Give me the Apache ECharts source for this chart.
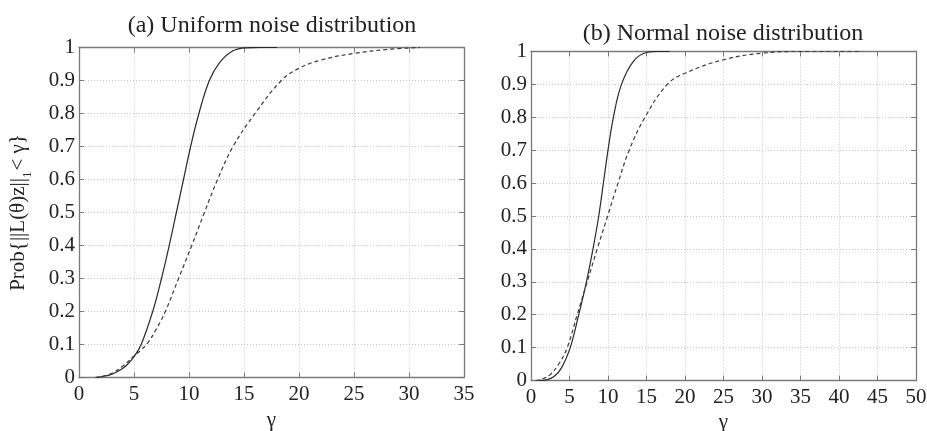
<!DOCTYPE html>
<html>
<head>
<meta charset="utf-8">
<script src="https://cdn.jsdelivr.net/npm/echarts@6/dist/echarts.min.js"></script>
<style>html,body{margin:0;padding:0;background:#fff}#c{width:927px;height:431px}</style>
</head>
<body>
<div id="c"></div>
<script>
// Panel titles
var titleA = "(a) Uniform noise distribution";
var titleB = "(b) Normal noise distribution";
var xName = "γ";
// Axis ranges / ticks
var xMaxA = 35, xMaxB = 50, xStep = 5;
var yMin = 0, yMax = 1, yStep = 0.1;

// (a) Uniform noise: solid curve
var aSolidX = [1.5, 2, 3, 4, 4.5, 5, 5.65, 6.7, 7.5, 8.2, 8.85, 9.5, 10.15, 10.9, 11.85, 12.8, 14.0, 15.2, 16.5, 18];
var aSolidY = [0, 0.002, 0.01, 0.028, 0.043, 0.063, 0.1, 0.2, 0.3, 0.4, 0.5, 0.6, 0.7, 0.8, 0.9, 0.955, 0.99, 0.999, 1, 1];
// (a) Uniform noise: dashed curve
var aDashX = [1.5, 2, 3, 4, 5, 5.6, 6.25, 7.0, 7.85, 9.05, 10.25, 11.4, 12.6, 14.0, 16.0, 18.4, 20, 22, 25, 28, 31];
var aDashY = [0, 0.003, 0.013, 0.035, 0.065, 0.082, 0.105, 0.145, 0.2, 0.3, 0.4, 0.5, 0.6, 0.7, 0.8, 0.9, 0.937, 0.962, 0.982, 0.994, 1];
// (b) Normal noise: solid curve
var bSolidX = [1, 2, 3, 4, 5.1, 6.2, 7.2, 8.05, 8.8, 9.4, 10.0, 10.7, 11.75, 13.3, 15.0, 16.5, 18];
var bSolidY = [0, 0.002, 0.012, 0.04, 0.1, 0.2, 0.3, 0.4, 0.5, 0.6, 0.7, 0.8, 0.9, 0.97, 0.997, 1, 1];
// (b) Normal noise: dashed curve
var bDashX = [0.6, 1.5, 2.5, 3.6, 4.7, 6.0, 7.3, 8.6, 9.95, 11.3, 12.75, 14.8, 17.7, 20, 25, 30, 35, 43];
var bDashY = [0, 0.005, 0.018, 0.05, 0.1, 0.2, 0.3, 0.4, 0.5, 0.6, 0.7, 0.8, 0.9, 0.934, 0.975, 0.995, 1, 1];

function pairs(xs, ys) { return xs.map(function (x, i) { return [x, ys[i]]; }); }

var FONT = "Liberation Serif";
var AX = "#7a7a7a";
var TXT = "#222";

function xAxisMain(gi, max, gap) {
  return {
    type: 'value', gridIndex: gi, min: 0, max: max, interval: xStep,
    axisLine: { show: true, onZero: false, lineStyle: { color: AX, width: 1.3 } },
    axisTick: { show: true, inside: true, length: 5, lineStyle: { color: AX } },
    axisLabel: { color: TXT, fontFamily: FONT, fontSize: 21, margin: 6 },
    splitLine: { show: true, lineStyle: { color: '#c4c4c4', type: [1, 2], width: 1 } },
    name: xName, nameLocation: 'middle', nameGap: gap,
    nameTextStyle: { color: TXT, fontFamily: FONT, fontSize: 21 }
  };
}
function xAxisTop(gi, max) {
  return {
    type: 'value', gridIndex: gi, position: 'top', min: 0, max: max, interval: xStep,
    axisLine: { show: true, onZero: false, lineStyle: { color: AX, width: 1.3 } },
    axisTick: { show: true, inside: true, length: 5, lineStyle: { color: AX } },
    axisLabel: { show: false }, splitLine: { show: false }
  };
}
function yAxisMain(gi, withName) {
  var o = {
    type: 'value', gridIndex: gi, min: yMin, max: yMax, interval: yStep,
    axisLine: { show: true, onZero: false, lineStyle: { color: AX, width: 1.3 } },
    axisTick: { show: true, inside: true, length: 5, lineStyle: { color: AX } },
    axisLabel: { color: TXT, fontFamily: FONT, fontSize: 21, margin: 4,
      formatter: function (v) { return String(Math.round(v * 10) / 10); } },
    splitLine: { show: true, lineStyle: { color: '#c4c4c4', type: [1, 2], width: 1 } }
  };
  if (withName) {
    o.name = "{a|Prob{||L(θ)z||}{s|1}{a|< γ}}";
    o.nameLocation = 'middle';
    o.nameGap = 50;
    o.nameTextStyle = {
      color: TXT, fontFamily: FONT, fontSize: 21,
      rich: {
        a: { color: TXT, fontFamily: FONT, fontSize: 21, verticalAlign: 'bottom', lineHeight: 24 },
        s: { color: TXT, fontFamily: FONT, fontSize: 13, verticalAlign: 'bottom', lineHeight: 24, padding: [0, 1, -5, 0] }
      }
    };
  }
  return o;
}
function yAxisRight(gi) {
  return {
    type: 'value', gridIndex: gi, position: 'right', min: yMin, max: yMax, interval: yStep,
    axisLine: { show: true, onZero: false, lineStyle: { color: AX, width: 1.3 } },
    axisTick: { show: true, inside: true, length: 5, lineStyle: { color: AX } },
    axisLabel: { show: false }, splitLine: { show: false }
  };
}
function line(xi, yi, data, dashed) {
  return {
    type: 'line', xAxisIndex: xi, yAxisIndex: yi, data: data,
    showSymbol: false, smooth: 0.4, silent: true,
    lineStyle: { color: dashed ? '#3a3a3a' : '#2a2a2a', width: 1.2, type: dashed ? [4, 3] : 'solid' }
  };
}

var chart = echarts.init(document.getElementById('c'), null, { renderer: 'canvas' });
chart.setOption({
  animation: false,
  backgroundColor: '#fff',
  title: [
    { text: titleA, left: 272, top: 14, textAlign: 'center', padding: 0,
      textStyle: { color: TXT, fontFamily: FONT, fontSize: 24, fontWeight: 'normal' } },
    { text: titleB, left: 723, top: 22, textAlign: 'center', padding: 0,
      textStyle: { color: TXT, fontFamily: FONT, fontSize: 24, fontWeight: 'normal' } }
  ],
  grid: [
    { left: 79, top: 47.5, width: 385, height: 330, containLabel: false, outerBoundsMode: 'none' },
    { left: 531, top: 51.5, width: 385, height: 329, containLabel: false, outerBoundsMode: 'none' }
  ],
  xAxis: [xAxisMain(0, xMaxA, 32), xAxisTop(0, xMaxA), xAxisMain(1, xMaxB, 30), xAxisTop(1, xMaxB)],
  yAxis: [yAxisMain(0, true), yAxisRight(0), yAxisMain(1, false), yAxisRight(1)],
  series: [
    line(0, 0, pairs(aSolidX, aSolidY), false),
    line(0, 0, pairs(aDashX, aDashY), true),
    line(2, 2, pairs(bSolidX, bSolidY), false),
    line(2, 2, pairs(bDashX, bDashY), true)
  ]
});
</script>
</body>
</html>
